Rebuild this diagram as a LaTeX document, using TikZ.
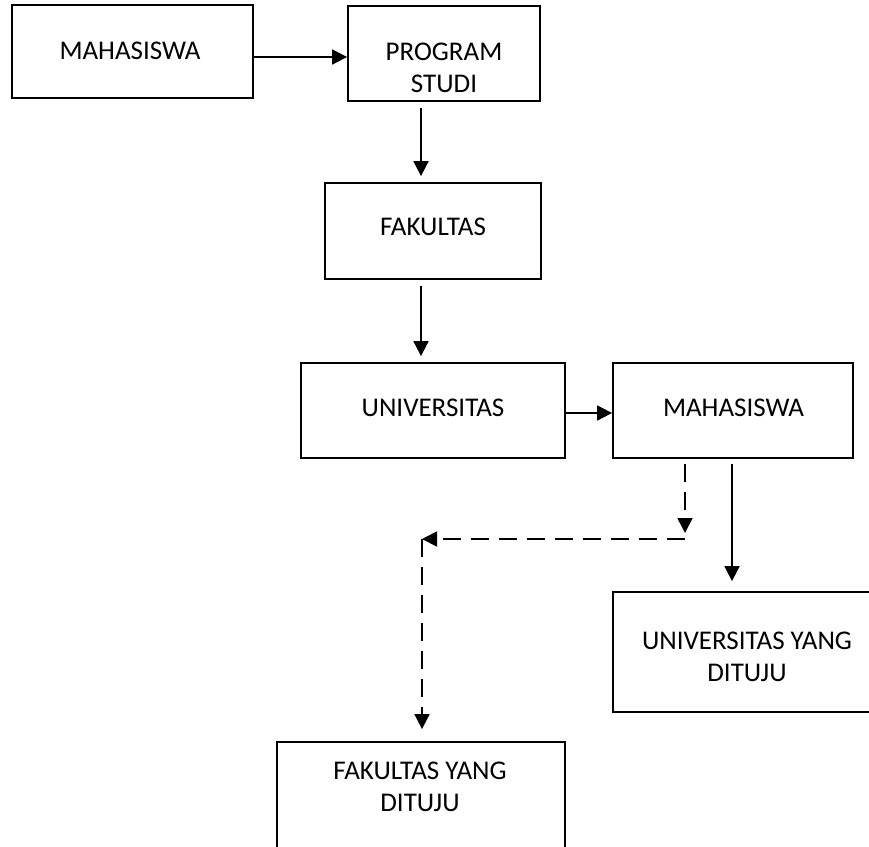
\documentclass[tikz,border=0pt]{standalone}
\usepackage{fontspec}
\setmainfont{Carlito}
\usetikzlibrary{arrows.meta}

\tikzset{
  box/.style={draw=black, line width=1.8pt, rectangle, inner sep=0pt, fill=white},
  lbl/.style={inner sep=0pt, font=\fontsize{27}{32}\selectfont, text=black},
  lbl2/.style={lbl, align=center, anchor=north},
  link/.style={line width=1.8pt, -{Triangle[length=15pt,width=15pt]}},
  dlink/.style={link, dash pattern=on 18pt off 10pt},
}

\begin{document}
\begin{tikzpicture}[x=1pt, y=-1pt]
  \useasboundingbox (0,0) rectangle (869,846);
  \fill[white] (0,0) rectangle (869,846);
  \clip (0,0) rectangle (869,846);

  % boxes
  \node[box, minimum width=241pt, minimum height=93pt]  (mhs)  at (132.5,51.5) {};
  \node[box, minimum width=192pt, minimum height=95pt]  (prodi) at (444,53.5) {};
  \node[box, minimum width=216pt, minimum height=96pt]  (fak)  at (433,231) {};
  \node[box, minimum width=264pt, minimum height=95pt]  (univ) at (433,410.5) {};
  \node[box, minimum width=240pt, minimum height=95pt]  (mhs2) at (733,410.5) {};
  \node[box, minimum width=268pt, minimum height=120pt] (univt) at (747,652) {};
  \node[box, minimum width=288pt, minimum height=130pt] (fakt) at (421,807) {};

  % labels
  \node[lbl, anchor=base] (tmhs)  at (130,59)  {MAHASISWA};
  \node[lbl2]             (tprodi) at (444,43) {PROGRAM\\STUDI};
  \node[lbl, anchor=base] (tfak)  at (433,235) {FAKULTAS};
  \node[lbl, anchor=base] (tuniv) at (433,416) {UNIVERSITAS};
  \node[lbl, anchor=base] (tmhs2) at (733.5,416) {MAHASISWA};
  \node[lbl2]             (tunivt) at (747,632) {UNIVERSITAS YANG\\DITUJU};
  \node[lbl2]             (tfakt) at (420,762) {FAKULTAS YANG\\DITUJU};

  % route points of the dashed path
  \coordinate (d1) at (685,533);
  \coordinate (d2) at (685,539);
  \coordinate (d3) at (422,539);

  % solid connectors
  \draw[link] (mhs.east |- 0,57) -- (prodi.west |- 0,57);
  \draw[link, shorten <=6pt, shorten >=6pt] (prodi.south -| 421,0) -- (fak.north -| 421,0);
  \draw[link, shorten <=6pt, shorten >=6pt] (fak.south -| 421,0) -- (univ.north -| 421,0);
  \draw[link] (univ.east |- 0,413) -- (mhs2.west |- 0,413);
  \draw[link, shorten <=5pt, shorten >=10pt] (mhs2.south -| 732,0) -- (univt.north -| 732,0);

  % dashed connectors
  \draw[dlink, shorten <=5pt] (mhs2.south -| d1) -- (d1);
  \draw[dlink] (d2) -- (d3);
  \draw[dlink, shorten >=12pt] (d3) -- (fakt.north -| d3);
\end{tikzpicture}
\end{document}
